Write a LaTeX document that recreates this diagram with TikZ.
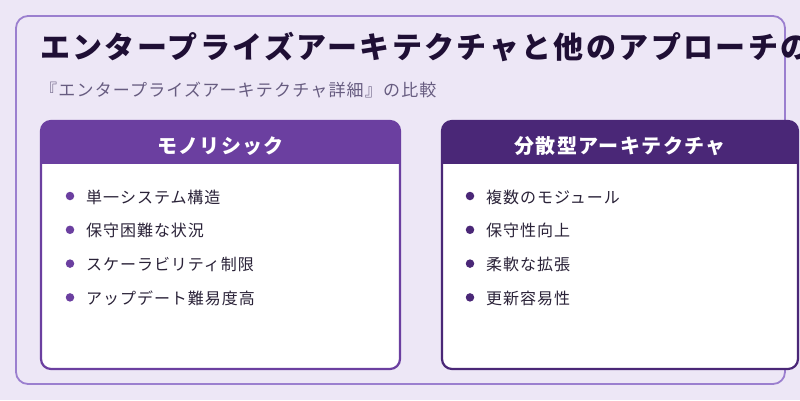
\documentclass[tikz,border=0pt]{standalone}
\usepackage{fontspec}
\setmainfont{Noto Sans CJK JP}
\definecolor{bgc}{HTML}{EDE7F6}
\definecolor{outerc}{HTML}{9B7FCF}
\definecolor{titlec}{HTML}{1F0F35}
\definecolor{subc}{HTML}{675C80}
\definecolor{monoc}{HTML}{6B3FA0}
\definecolor{distc}{HTML}{4A2777}
\definecolor{textc}{HTML}{2A2238}
\tikzset{
  titletext/.style={anchor=base west,inner sep=0pt,text=titlec,font=\fontsize{30}{33}\selectfont\bfseries\addfontfeature{LetterSpace=8}},
  subtext/.style={anchor=base west,inner sep=0pt,text=subc,font=\fontsize{17}{20}\selectfont\addfontfeature{LetterSpace=7}},
  headtext/.style={anchor=base,inner sep=0pt,text=white,font=\fontsize{20}{24}\selectfont\bfseries\addfontfeature{LetterSpace=7}},
  itemtext/.style={anchor=base west,inner sep=0pt,text=textc,font=\fontsize{16}{19}\selectfont\addfontfeature{LetterSpace=6}},
  cardborder/.style={draw=#1,line width=2.2pt,rounded corners=10pt},
  dot/.style={circle,fill=#1,inner sep=0pt,minimum size=8.5pt}
}
\begin{document}
\begin{tikzpicture}[x=1pt,y=-1pt]
\useasboundingbox (0,0) rectangle (800,400);
\begin{scope}
\clip (0,0) rectangle (800,400);
\fill[bgc] (0,0) rectangle (800,400);
\draw[outerc,line width=1.8pt,rounded corners=12pt] (16,16) rectangle (785,384);
\node[titletext] (title) at (40,58) {エンタープライズアーキテクチャと他のアプローチの};
\node[subtext] (sub) at (40,96) {『エンタープライズアーキテクチャ詳細』の比較};
% left card
\fill[white,rounded corners=10pt] (41,121) rectangle (400,369);
\begin{scope}
\clip[rounded corners=10pt] (41,121) rectangle (400,369);
\fill[monoc] (41,121) rectangle (400,164);
\end{scope}
\draw[cardborder=monoc] (41,121) rectangle (400,369);
\node[headtext] (lh) at (220.5,153) {モノリシック};
\foreach \t [count=\i from 0] in {単一システム構造,保守困難な状況,スケーラビリティ制限,アップデート難易度高}{
  \node[dot=monoc] (ld\i) at (70,{196+33.8*\i}) {};
  \node[itemtext] (lt\i) at (86,{203+33.8*\i}) {\t};
}
% right card
\fill[white,rounded corners=10pt] (442,121) rectangle (798,369);
\begin{scope}
\clip[rounded corners=10pt] (442,121) rectangle (798,369);
\fill[distc] (442,121) rectangle (798,164);
\end{scope}
\draw[cardborder=distc] (442,121) rectangle (798,369);
\node[headtext] (rh) at (620,153) {分散型アーキテクチャ};
\foreach \t [count=\i from 0] in {複数のモジュール,保守性向上,柔軟な拡張,更新容易性}{
  \node[dot=distc] (rd\i) at (470,{196+33.8*\i}) {};
  \node[itemtext] (rt\i) at (486,{203+33.8*\i}) {\t};
}
\end{scope}
\end{tikzpicture}
\end{document}
